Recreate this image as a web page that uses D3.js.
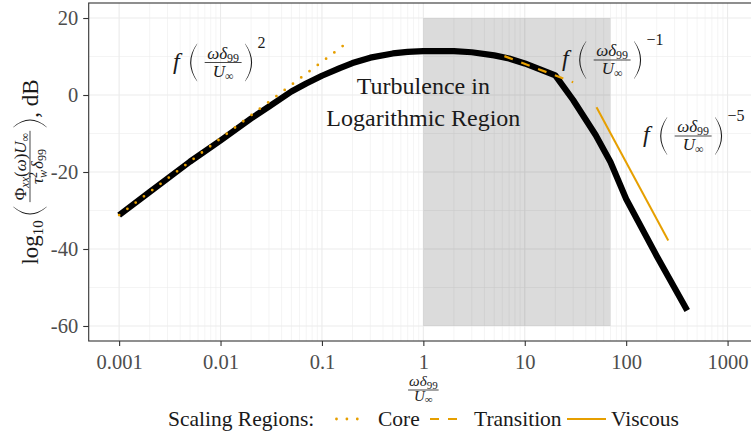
<!DOCTYPE html>
<html><head><meta charset="utf-8">
<script src="https://cdn.jsdelivr.net/npm/d3@7"></script>
<style>
html,body{margin:0;padding:0;background:#fff;}
svg{display:block;}
svg text{font-family:"Liberation Serif","Times New Roman",serif;}
</style></head><body>
<svg id="chart" width="751" height="434"></svg>
<script>
// Spectrum level versus scaled frequency, with the three scaling-law guides
const freq  = [0.001, 0.002, 0.005, 0.01, 0.02, 0.03, 0.05, 0.07, 0.1, 0.15, 0.2, 0.3, 0.5, 0.7, 1, 2, 3, 5, 7, 10, 15, 20, 30, 50, 70, 100, 200, 400];
const level = [-31.2, -25.2, -17.3, -11.8, -6.1, -3.0, 0.9, 3.0, 5.0, 7.0, 8.3, 9.7, 10.8, 11.2, 11.4, 11.4, 11.1, 10.3, 9.5, 8.2, 6.4, 5.1, -1.3, -10.4, -17.4, -27.0, -41.8, -56.0];

const coreFreq  = [0.001, 0.16];
const coreLevel = [-31.2, 12.7];
const transFreq  = [6.3, 30];
const transLevel = [10.1, 3.3];
const viscFreq  = [51, 260];
const viscLevel = [-3.2, -37.8];

const shadeFreq  = [1, 70];
const shadeLevel = [-60, 20];

const xTicks = [0.001, 0.01, 0.1, 1, 10, 100, 1000];
const xTickLabels = ["0.001", "0.01", "0.1", "1", "10", "100", "1000"];
const yTicks = [-60, -40, -20, 0, 20];
const yTickLabels = ["-60", "-40", "-20", "0", "20"];
const yMinor = [-50, -30, -10, 10];

const legendNames = ["Core", "Transition", "Viscous"];
const guideExponents = ["2", "\u22121", "\u22125"];

const ink = "#1a1a1a";
const orange = "#E69F00";
const serif = '"Liberation Serif","Times New Roman",serif';

const svg = d3.select("#chart");
const pL = 88.7, pR = 758, pT = 3, pB = 341;

const x = d3.scaleLog().domain([Math.pow(10, -3.3), Math.pow(10, 3.3)]).range([pL, pR]);
const y = d3.scaleLinear().domain([-63.9, 23.9]).range([pB, pT]);

const plot = svg.append("g");

// grid
const grid = plot.append("g");
const xMinor = x.ticks().filter(v => v >= 0.001 && v <= 1000 && !xTicks.some(t => Math.abs(t - v) / t < 1e-6));
grid.selectAll("line.xm").data(xMinor).join("line")
  .attr("x1", d => x(d)).attr("x2", d => x(d)).attr("y1", pT).attr("y2", pB)
  .attr("stroke", "#ebebeb").attr("stroke-width", 0.55);
grid.selectAll("line.ym").data(yMinor).join("line")
  .attr("x1", pL).attr("x2", pR).attr("y1", d => y(d)).attr("y2", d => y(d))
  .attr("stroke", "#ebebeb").attr("stroke-width", 0.55);
grid.selectAll("line.xM").data(xTicks).join("line")
  .attr("x1", d => x(d)).attr("x2", d => x(d)).attr("y1", pT).attr("y2", pB)
  .attr("stroke", "#ebebeb").attr("stroke-width", 1.1);
grid.selectAll("line.yM").data(yTicks).join("line")
  .attr("x1", pL).attr("x2", pR).attr("y1", d => y(d)).attr("y2", d => y(d))
  .attr("stroke", "#ebebeb").attr("stroke-width", 1.1);

// shaded logarithmic region
plot.append("rect")
  .attr("x", x(shadeFreq[0])).attr("width", x(shadeFreq[1]) - x(shadeFreq[0]))
  .attr("y", y(shadeLevel[1])).attr("height", y(shadeLevel[0]) - y(shadeLevel[1]))
  .attr("fill", "#000").attr("fill-opacity", 0.14);

// spectrum
const line = d3.line().x(d => x(d[0])).y(d => y(d[1]));
plot.append("path").datum(d3.zip(freq, level))
  .attr("d", line).attr("fill", "none").attr("stroke", "#000")
  .attr("stroke-width", 6.2).attr("stroke-linejoin", "round").attr("stroke-linecap", "butt");

// scaling guides
const guideStyles = [
  {dash: "0 10.4", width: 2.8, cap: "round"},
  {dash: "9 9", width: 2.2, cap: "butt"},
  {dash: null, width: 2.0, cap: "butt"}
];
const guides = [d3.zip(coreFreq, coreLevel), d3.zip(transFreq, transLevel), d3.zip(viscFreq, viscLevel)];
guides.forEach((g, i) => {
  const p = plot.append("path").datum(g).attr("d", line).attr("fill", "none")
    .attr("stroke", orange).attr("stroke-width", guideStyles[i].width)
    .attr("stroke-dasharray", guideStyles[i].dash).attr("stroke-linecap", guideStyles[i].cap);
  if (i === 0) {
    // spread the dots so one sits on each end of the guide
    const L = p.node().getTotalLength();
    p.attr("stroke-dasharray", `0 ${L / Math.round(L / 10.4)}`);
  }
});

// panel border
plot.append("rect").attr("x", pL).attr("y", pT).attr("width", pR - pL).attr("height", pB - pT)
  .attr("fill", "none").attr("stroke", "#333").attr("stroke-width", 1.1);

// axes
const xAxis = d3.axisBottom(x).tickValues(xTicks).tickFormat((d, i) => xTickLabels[i]).tickSizeOuter(0).tickSize(5).tickPadding(4);
const gx = svg.append("g").attr("transform", `translate(0,${pB})`).call(xAxis);
const yAxis = d3.axisLeft(y).tickValues(yTicks).tickFormat((d, i) => yTickLabels[i]).tickSizeOuter(0).tickSize(5.5).tickPadding(5);
const gy = svg.append("g").attr("transform", `translate(${pL},0)`).call(yAxis);
[gx, gy].forEach(g => {
  g.attr("font-family", serif);
  g.select(".domain").remove();
  g.selectAll(".tick line").attr("stroke", "#333").attr("stroke-width", 1.1);
  g.selectAll(".tick text").attr("fill", "#4d4d4d").attr("font-size", 20.5).attr("font-family", serif);
});
gx.selectAll(".tick text").attr("dy", "0.95em");

// ---- small math-layout helpers ----
function row(g, items) {
  let cx = 0;
  for (const it of items) {
    if (it.gap != null) { cx += it.gap; continue; }
    if (it.paren) { cx += paren(g, cx, it); continue; }
    if (it.frac) { cx += frac(g, cx, it); continue; }
    if (it.stack) {
      let w = 0;
      it.stack.forEach(s => { w = Math.max(w, glyph(g, cx, s)); });
      cx += w; continue;
    }
    cx += glyph(g, cx, it);
  }
  return cx;
}
function glyph(g, cx, it) {
  const t = g.append("text").attr("x", cx).attr("y", it.dy || 0)
    .attr("font-family", serif)
    .attr("font-size", it.size).attr("font-style", it.it ? "italic" : "normal").text(it.t);
  return t.node().getComputedTextLength();
}
function paren(g, cx, it) {
  const w = it.w, h = it.h, yc = it.yc || 0, t = it.t || 1.1;
  const open = it.paren === "(";
  const xe = open ? cx + w * 0.85 : cx + w * 0.15;
  const xo = open ? cx - w * 0.55 : cx + w * 1.55;
  const xi = open ? xo + 2 * t : xo - 2 * t;
  const y0 = yc - h / 2, y1 = yc + h / 2;
  g.append("path").attr("d", `M${xe},${y0}Q${xo},${yc} ${xe},${y1}L${xe},${y1 - 0.5}Q${xi},${yc} ${xe},${y0 + 0.5}Z`);
  return w;
}
function frac(g, cx, it) {
  const ng = g.append("g"), dg = g.append("g");
  const nw = row(ng, it.num), dw = row(dg, it.den);
  const w = Math.max(nw, dw) + 2 * (it.pad || 1);
  const mid = cx + w / 2;
  ng.attr("transform", `translate(${mid - nw / 2},${it.bar + it.numBase})`);
  dg.attr("transform", `translate(${mid - dw / 2},${it.bar + it.denBase})`);
  g.append("rect").attr("x", cx).attr("y", it.bar - 0.4).attr("width", w).attr("height", 0.8);
  return w;
}
const scaledFreqNum = () => [{t: "\u03C9", it: true, size: 17}, {t: "\u03B4", it: true, size: 17}, {t: "99", size: 12, dy: 3}];
const scaledFreqDen = () => [{t: "U", it: true, size: 17}, {t: "\u221E", size: 12, dy: 3}];

// scaling-law labels
const labelPos = [[173, 62.5], [562, 60], [643, 136]];
labelPos.forEach((p, i) => {
  const g = svg.append("g").attr("transform", `translate(${p[0]},${p[1]})`).attr("fill", ink);
  row(g, [
    {t: "f", it: true, size: 24, dy: 6},
    {gap: 9},
    {paren: "(", w: 10, h: 38},
    {gap: 6},
    {frac: true, bar: 0, num: scaledFreqNum(), den: scaledFreqDen(), numBase: -4, denBase: 14, pad: 2.5},
    {gap: 2},
    {paren: ")", w: 10, h: 38},
    {gap: 4},
    {t: guideExponents[i], size: 16, dy: -15}
  ]);
});

// region annotation
const note = svg.append("g").attr("fill", ink).attr("text-anchor", "middle");
note.append("text").attr("x", x(1)).attr("y", 94).attr("font-size", 24).attr("font-family", serif).text("Turbulence in");
note.append("text").attr("x", x(1)).attr("y", 126).attr("font-size", 24).attr("font-family", serif).text("Logarithmic Region");

// x-axis title
{
  const g = svg.append("g").attr("fill", ink);
  const inner = g.append("g");
  const w = row(inner, [{frac: true, bar: 0, numBase: -4, denBase: 11, pad: 1,
    num: [{t: "\u03C9", it: true, size: 15}, {t: "\u03B4", it: true, size: 15}, {t: "99", size: 11, dy: 3}],
    den: [{t: "U", it: true, size: 15}, {t: "\u221E", size: 11, dy: 2}]}]);
  inner.attr("transform", `translate(${-w / 2},0)`);
  g.attr("transform", `translate(${x(1)},390)`);
}

// y-axis title
{
  const g = svg.append("g").attr("fill", ink);
  const inner = g.append("g");
  const w = row(inner, [
    {t: "log", size: 23},
    {t: "10", size: 15, dy: 5},
    {gap: 4},
    {paren: "(", w: 11, h: 34, yc: -8},
    {gap: 3},
    {frac: true, bar: -8, numBase: -4, denBase: 13, pad: 2,
      num: [{t: "\u03A6", size: 17}, {t: "xx", it: true, size: 12, dy: 3}, {t: "(", size: 17}, {t: "\u03C9", it: true, size: 17},
            {t: ")", size: 17}, {t: "U", it: true, size: 17}, {t: "\u221E", size: 12, dy: 3}],
      den: [{t: "\u03C4", it: true, size: 17}, {stack: [{t: "2", size: 12, dy: -6}, {t: "w", it: true, size: 12, dy: 4}]},
            {gap: 1}, {t: "\u03B4", it: true, size: 17}, {t: "99", size: 12, dy: 3}]},
    {gap: 2},
    {paren: ")", w: 11, h: 34, yc: -8},
    {t: ", dB", size: 23}
  ]);
  inner.attr("transform", `translate(${-w / 2},0)`);
  g.attr("transform", `translate(38,172) rotate(-90)`);
}

// legend
{
  const g = svg.append("g");
  const ly = 419;
  g.append("text").attr("x", 168).attr("y", ly + 7).attr("font-size", 21.5).attr("font-family", serif).attr("fill", ink).text("Scaling Regions:");
  const keys = [[336.5, 367.5], [430, 462], [567, 606]];
  const textX = [378, 474, 611];
  legendNames.forEach((n, i) => {
    g.append("line").attr("x1", keys[i][0]).attr("x2", keys[i][1]).attr("y1", ly).attr("y2", ly)
      .attr("stroke", orange).attr("stroke-width", guideStyles[i].width)
      .attr("stroke-dasharray", guideStyles[i].dash).attr("stroke-linecap", guideStyles[i].cap);
    g.append("text").attr("x", textX[i]).attr("y", ly + 7).attr("font-size", 21.5).attr("font-family", serif).attr("fill", ink).text(n);
  });
}
</script>
</body></html>
